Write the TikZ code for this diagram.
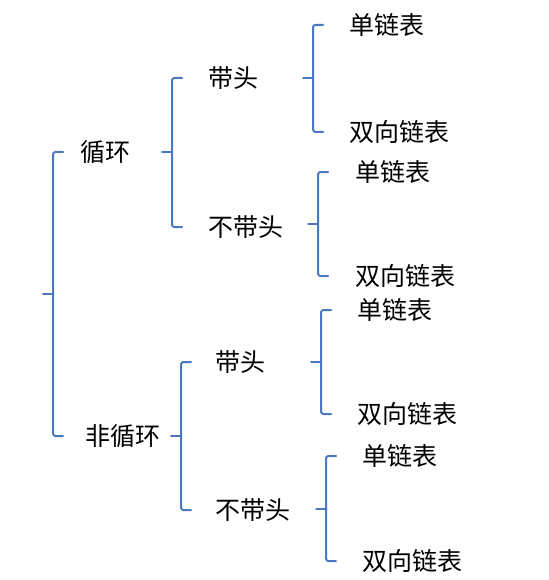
\documentclass[tikz,border=0pt]{standalone}
\usepackage{fontspec}
\setmainfont{Noto Sans CJK SC}
\usetikzlibrary{calc}
\definecolor{bracecol}{RGB}{74,120,193}
\newcommand\brc[3][26pt]{%
  \draw[brc] ([xshift=-#1]#2.west) coordinate (t) -- ++(-10pt,0) coordinate (s)
    -- (s |- #3.west) -- ++(10pt,0);
  \draw[brc] ($(s)!.5!(s |- #3.west)$) -- ++(-10pt,0);
}
\begin{document}
\begin{tikzpicture}[x=1pt,y=-1pt,line join=round,line cap=round,
    brc/.style={draw=bracecol,line width=2pt,rounded corners=2.5pt},
    lbl/.style={anchor=west,inner sep=0pt,font=\fontsize{25}{30}\selectfont}]
  \useasboundingbox (0,0) rectangle (548,580);
  \node[lbl] (xh) at (80,152) {循环};
  \node[lbl] (fxh) at (85,436) {非循环};
  \node[lbl] (xhdt) at (208,78) {带头};
  \node[lbl] (xhbdt) at (208,227) {不带头};
  \node[lbl] (fxhdt) at (215,362) {带头};
  \node[lbl] (fxhbdt) at (215,510) {不带头};
  \node[lbl] (a1) at (349,25) {单链表};
  \node[lbl] (a2) at (349,132) {双向链表};
  \node[lbl] (b1) at (355,172) {单链表};
  \node[lbl] (b2) at (355,276) {双向链表};
  \node[lbl] (c1) at (357,310) {单链表};
  \node[lbl] (c2) at (357,414) {双向链表};
  \node[lbl] (d1) at (362,456) {单链表};
  \node[lbl] (d2) at (362,561) {双向链表};
  \brc[17pt]{xh}{fxh}
  \brc{xhdt}{xhbdt}
  \brc[24pt]{fxhdt}{fxhbdt}
  \brc{a1}{a2}
  \brc[27pt]{b1}{b2}
  \brc{c1}{c2}
  \brc{d1}{d2}
\end{tikzpicture}
\end{document}
